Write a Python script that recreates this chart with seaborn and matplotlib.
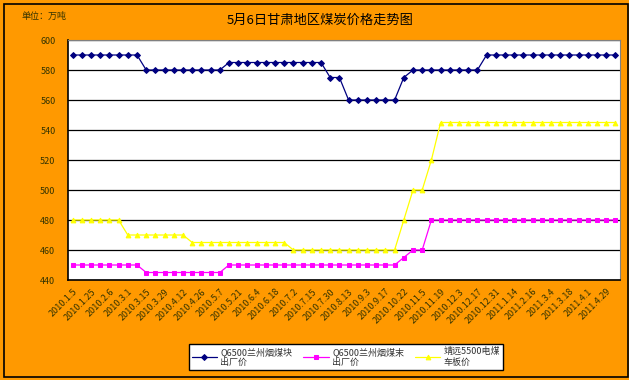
import matplotlib
matplotlib.use("Agg")
import matplotlib.pyplot as plt
import matplotlib.patches as mpatches
import pandas as pd
import seaborn as sns
import numpy as np

# 30 visible date labels (every other point is labelled)
date_labels = ["2010.1.5", "2010.1.25", "2010.2.6", "2010.3.1", "2010.3.15", "2010.3.29",
               "2010.4.12", "2010.4.26", "2010.5.7", "2010.5.21", "2010.6.4", "2010.6.18",
               "2010.7.2", "2010.7.15", "2010.7.30", "2010.8.13", "2010.9.3", "2010.9.17",
               "2010.10.22", "2010.11.5", "2010.11.19", "2010.12.3", "2010.12.17", "2010.12.31",
               "2011.1.14", "2011.2.16", "2011.3.4", "2011.3.18", "2011.4.1", "2011.4.29"]

lump = [590] * 8 + [580] * 9 + [585] * 11 + [575] * 2 + [560] * 6 + [575] + [580] * 8 + [590] * 15
powder = [450] * 8 + [445] * 9 + [450] * 19 + [455] + [460] * 2 + [480] * 21
jingyuan = [480] * 6 + [470] * 7 + [465] * 11 + [460] * 12 + [480] + [500] * 2 + [520] + [545] * 20

names = ["Q6500兰州烟煤块\n出厂价", "Q6500兰州烟煤末\n出厂价", "靖远5500电煤\n车板价"]
colors = ["#000080", "#FF00FF", "#FFFF00"]
markers = ["D", "s", "^"]

idx = np.arange(len(lump))
df = pd.DataFrame({"idx": idx, names[0]: lump, names[1]: powder, names[2]: jingyuan})

sns.set_style("white")
plt.rcParams["font.family"] = ["Noto Sans CJK SC", "DejaVu Sans"]

fig = plt.figure(figsize=(6.34, 3.8), dpi=100, facecolor="#FF9900")
ax = fig.add_axes([68 / 634, 1 - 280 / 380, (620 - 68) / 634, 240 / 380])
ax.set_facecolor("white")

for name, c, m in zip(names, colors, markers):
    sns.lineplot(data=df, x="idx", y=name, ax=ax, color=c, marker=m,
                 markersize=3.4 if m != "D" else 3.0, markeredgecolor=c,
                 linewidth=0.9, label=name)

ax.set_xlim(-0.5, len(lump) - 0.5)
ax.set_ylim(440, 600)
ax.set_yticks(np.arange(440, 601, 20))
ax.yaxis.grid(True, color="black", linewidth=0.9)
ax.set_axisbelow(True)
ax.set_xticks(idx[::2])
ax.set_xticklabels(date_labels, rotation=45, ha="right", rotation_mode="anchor",
                   fontsize=6.5, color="#333300")
ax.set_xticks(np.arange(-0.5, len(lump)), minor=True)
ax.tick_params(axis="x", which="major", length=0, pad=5)
ax.tick_params(axis="x", which="minor", direction="in", length=3, color="black")
ax.tick_params(axis="y", length=0, labelsize=6.5, labelcolor="#333300", pad=9)
ax.set_xlabel("")
ax.set_ylabel("")
for s in ["top", "right"]:
    ax.spines[s].set_color("#808080")
for s in ["left", "bottom"]:
    ax.spines[s].set_color("black")
    ax.spines[s].set_linewidth(1.2)

ax.get_legend().remove()
handles, labels = ax.get_legend_handles_labels()
leg = fig.legend(handles, labels, loc="center", bbox_to_anchor=(346 / 634, 1 - 357 / 380),
                 ncol=3, fontsize=6.5, frameon=True, fancybox=False, edgecolor="black",
                 facecolor="white", framealpha=1.0,
                 handlelength=2.8, columnspacing=1.2, borderpad=0.3, labelspacing=0.2,
                 handletextpad=0.4)
leg.get_frame().set_linewidth(1.0)
for t in leg.get_texts():
    t.set_color("#333333")

fig.text(320 / 634, 1 - 20 / 380, "5月6日甘肃地区煤炭价格走势图", ha="center", va="center",
         fontsize=9.5, color="black")
fig.text(22 / 634, 1 - 16 / 380, "单位：万吨", ha="left", va="center", fontsize=6.5, color="#333300")

# outer frame
fig.patches.append(mpatches.Rectangle((4 / 634, 3 / 380), 624 / 634, 373 / 380,
                                      transform=fig.transFigure, fill=False,
                                      edgecolor="black", linewidth=1.2))
fig.patches.append(mpatches.Rectangle((629 / 634, 0), 5 / 634, 1, transform=fig.transFigure,
                                      facecolor="white", edgecolor="none"))

fig.savefig("out.png", dpi=100, facecolor=fig.get_facecolor())
